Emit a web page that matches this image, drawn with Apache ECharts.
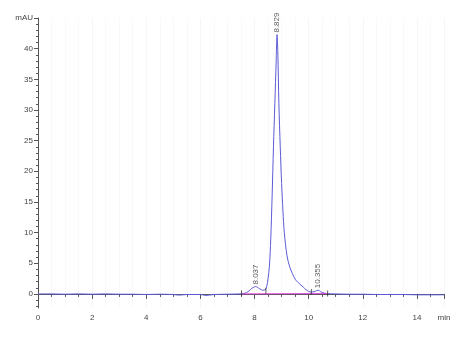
<!DOCTYPE html>
<html><head><meta charset="utf-8">
<script src="https://cdn.jsdelivr.net/npm/echarts@6/dist/echarts.min.js"></script>
<style>html,body{margin:0;padding:0;background:#fff}#c{width:466px;height:342px}</style>
</head><body><div id="c"></div>
<script>
// Chromatogram trace: retention time (min) and absorbance (mAU)
const times = [0,0.5,1.0,1.5,2.0,2.5,3.0,3.5,4.0,4.5,5.0,5.2,5.5,6.0,6.2,6.5,7.0,7.5,7.6,7.7,7.8,7.9,8.0,8.04,8.1,8.2,8.3,8.4,8.45,8.5,8.55,8.6,8.65,8.7,8.75,8.8,8.83,8.86,8.9,8.95,9.0,9.05,9.1,9.2,9.3,9.4,9.5,9.6,9.7,9.8,9.9,10.0,10.1,10.2,10.3,10.36,10.45,10.6,10.8,11,11.5,12,12.5,13,13.5,14,14.5,15];
const signal = [0,0,-0.05,0,-0.05,0,-0.05,-0.05,-0.1,-0.05,-0.1,-0.2,-0.1,-0.1,-0.25,-0.1,-0.05,0,0.05,0.2,0.5,0.9,1.15,1.2,1.1,0.8,0.6,0.7,1.2,2.5,4.5,9,16,24,31,38,42.3,39.5,31,24,18,13.5,10,6.2,4.4,3.3,2.4,1.9,1.5,1.1,0.7,0.4,0.3,0.35,0.55,0.6,0.35,0.1,0.02,0,-0.05,-0.05,-0.1,-0.1,-0.1,-0.15,-0.15,-0.15];
// Integration baseline
const baseTimes = [7.52, 10.7];
const baseValues = [0.0, 0.05];
// Integration boundary markers
const markTimes = [7.52, 8.42, 10.1, 10.7];
const markValues = [0.1, 0.5, 0.3, 0.05];
// Peak annotations
const peakTimes = [8.037, 8.829, 10.355];
const peakHeights = [1.2, 42.3, 0.6];
const peakLabels = ['8.037', '8.829', '10.355'];
// Axis ticks
const yLabelValues = [0,5,10,15,20,25,30,35,40,45];
const yMinorValues = [];
for (let v = -2; v <= 45; v++) yMinorValues.push(v);

const chart = echarts.init(document.getElementById('c'), null, {renderer: 'canvas'});
const font = {fontFamily: 'Liberation Sans', fontSize: 8, color: '#444'};
chart.setOption({
  animation: false,
  backgroundColor: '#fff',
  grid: {left: 38, right: 22, top: 18, bottom: 34},
  xAxis: {
    type: 'value', min: 0, max: 15, interval: 2,
    axisLine: {lineStyle: {color: '#555', width: 1}},
    axisTick: {length: 5, lineStyle: {color: '#555'}},
    minorTick: {show: true, splitNumber: 4, length: 3, lineStyle: {color: '#555'}},
    axisLabel: Object.assign({margin: 6, formatter: v => v === 15 ? 'min' : String(v)}, font),
    splitLine: {show: true, lineStyle: {color: '#f6f6f8', width: 1}},
    minorSplitLine: {show: true, lineStyle: {color: '#f9f9fb', width: 1}}
  },
  yAxis: [{
    type: 'value', min: -2.3, max: 45,
    axisLine: {show: true, lineStyle: {color: '#555', width: 1}},
    axisTick: {show: true, length: 4, customValues: yLabelValues, lineStyle: {color: '#555'}},
    axisLabel: Object.assign({margin: 5, customValues: yLabelValues, formatter: v => v === 45 ? 'mAU' : String(v)}, font),
    splitLine: {show: false}
  }, {
    type: 'value', min: -2.3, max: 45, position: 'left',
    axisLine: {show: false},
    axisTick: {show: true, length: 2, customValues: yMinorValues, lineStyle: {color: '#555'}},
    axisLabel: {show: false},
    splitLine: {show: false}
  }],
  series: [{
    type: 'line', yAxisIndex: 0,
    data: times.map((t, i) => [t, signal[i]]),
    showSymbol: false, smooth: 0.3,
    lineStyle: {color: '#5b5bd6', width: 1}, z: 3
  }, {
    type: 'line', yAxisIndex: 0,
    data: baseTimes.map((t, i) => [t, baseValues[i]]),
    showSymbol: false,
    lineStyle: {color: '#e040d8', width: 1}, z: 4
  }, {
    type: 'scatter', yAxisIndex: 0,
    data: markTimes.map((t, i) => [t, markValues[i]]),
    symbol: 'rect', symbolSize: [1, 6],
    itemStyle: {color: '#333'}, z: 5
  }, {
    type: 'scatter', yAxisIndex: 0,
    data: peakTimes.map((t, i) => ({value: [t, peakHeights[i]], label: {formatter: peakLabels[i]}})),
    symbolSize: 0,
    label: {show: true, position: 'top', rotate: 90, align: 'left', verticalAlign: 'middle', distance: 2,
      fontFamily: 'Liberation Sans', fontSize: 8, color: '#333'},
    z: 6
  }]
});
</script></body></html>
